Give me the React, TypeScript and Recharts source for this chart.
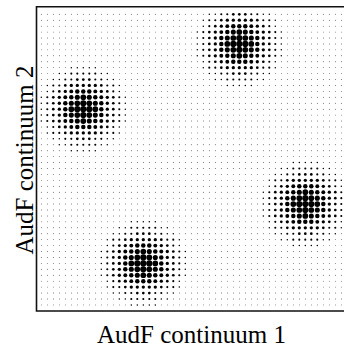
import React from 'react';
import { ScatterChart, Scatter, XAxis, YAxis, ReferenceArea } from 'recharts';

// ---- data ----
const X_LABEL = 'AudF continuum 1';
const Y_LABEL = 'AudF continuum 2';
const GRID_COLS = 51; // columns 0..50
const GRID_ROWS = 50; // rows 0..49 (top to bottom)
const BLOB_COLS = [7, 33, 44, 17];
const BLOB_ROWS = [16, 5, 32, 42];
// dot size level (0 = background .. 9 = largest) around each blob centre
const BLOB_STAMP = [
  '000001111100000',
  '000112222211000',
  '001122333221100',
  '012234444432210',
  '012345666543210',
  '123456787654321',
  '123467898764321',
  '123468999864321',
  '123467898764321',
  '123456787654321',
  '012345666543210',
  '012234444432210',
  '001122333221100',
  '000112222211000',
  '000001111100000',
];

// ---- style ----
const RADIUS_BY_LEVEL = [0.45, 0.75, 1.05, 1.35, 1.65, 1.95, 2.25, 2.55, 2.85, 3.1];

const half = Math.floor(BLOB_STAMP.length / 2);
const points: { x: number; y: number; level: number }[] = [];
for (let r = 0; r < GRID_ROWS; r++) {
  for (let c = 0; c < GRID_COLS; c++) {
    let level = 0;
    for (let b = 0; b < BLOB_COLS.length; b++) {
      const sr = r - BLOB_ROWS[b] + half;
      const sc = c - BLOB_COLS[b] + half;
      if (sr >= 0 && sr < BLOB_STAMP.length && sc >= 0 && sc < BLOB_STAMP[sr].length) {
        level = Math.max(level, Number(BLOB_STAMP[sr][sc]));
      }
    }
    points.push({ x: c, y: r, level });
  }
}

const XDOM: [number, number] = [-0.8, 50.95];
const YDOM: [number, number] = [-1.28, 50.03];

const XLabel = () => (
  <text x={191.5} y={343} textAnchor="middle" fontFamily="'Liberation Serif', serif" fontSize={25} fill="#000">
    {X_LABEL}
  </text>
);
const YLabel = () => (
  <text
    x={33}
    y={160}
    transform="rotate(-90 33 160)"
    textAnchor="middle"
    fontFamily="'Liberation Serif', serif"
    fontSize={25}
    fill="#000"
  >
    {Y_LABEL}
  </text>
);

const Dot = (props: any) => {
  const { cx, cy, payload } = props;
  if (cx == null || cy == null) return null;
  return <circle cx={cx} cy={cy} r={RADIUS_BY_LEVEL[payload.level]} fill="#000" />;
};

export default function App() {
  return (
    <div style={{ position: 'absolute', left: 0, top: 0, width: 344, height: 347, overflow: 'hidden', background: '#fff' }}>
      <ScatterChart width={347} height={347} margin={{ top: 6.7, right: 0, bottom: 0, left: 0 }}>
        <XAxis
          type="number"
          dataKey="x"
          domain={XDOM}
          allowDataOverflow
          height={36}
          tick={false}
          tickLine={false}
          axisLine={false}
          label={<XLabel />}
        />
        <YAxis
          type="number"
          dataKey="y"
          domain={YDOM}
          allowDataOverflow
          reversed
          width={36.5}
          tick={false}
          tickLine={false}
          axisLine={false}
          label={<YLabel />}
        />
        <Scatter data={points} shape={<Dot />} isAnimationActive={false} />
        <ReferenceArea x1={XDOM[0]} x2={XDOM[1]} y1={YDOM[0]} y2={YDOM[1]} fill="none" fillOpacity={0} stroke="#111" strokeWidth={1.6} />
      </ScatterChart>
    </div>
  );
}
